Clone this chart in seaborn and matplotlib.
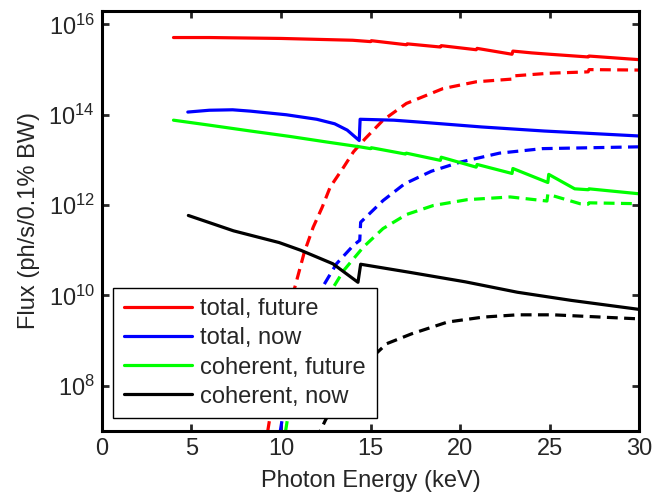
import numpy as np
import pandas as pd
import matplotlib
matplotlib.use("Agg")
import matplotlib.pyplot as plt
import seaborn as sns

# values, as (photon energy keV, log10 flux)
total_future_x = [4.0, 6.0, 8.0, 10.0, 12.0, 14.0, 15.0, 15.05, 17.0, 17.05, 18.9, 18.95,
                  20.9, 20.95, 22.9, 22.95, 24.0, 25.0, 27.15, 27.2, 30.0]
total_future_y = [15.71, 15.71, 15.70, 15.69, 15.67, 15.65, 15.62, 15.64, 15.55, 15.57, 15.50, 15.53,
                  15.44, 15.47, 15.34, 15.41, 15.37, 15.34, 15.28, 15.30, 15.22]
total_future_dx = [9.1, 9.55, 10.1, 10.7, 11.3, 11.8, 12.3, 12.75, 13.5, 14.05, 14.7, 15.7, 17.0,
                   19.05, 20.9, 22.9, 22.95, 25.0, 27.15, 27.2, 30.0]
total_future_dy = [6.6, 7.7, 8.8, 10.07, 10.95, 11.51, 11.95, 12.4, 12.84, 13.18, 13.47, 13.88, 14.25,
                   14.58, 14.73, 14.79, 14.86, 14.92, 14.95, 15.0, 14.99]

total_now_x = [4.8, 6.0, 7.3, 8.3, 10.3, 12.0, 13.0, 13.7, 14.37, 14.42, 16.3, 18.0, 21.2, 24.7, 30.0]
total_now_y = [14.06, 14.10, 14.11, 14.08, 14.0, 13.9, 13.8, 13.66, 13.43, 13.9, 13.88, 13.83,
               13.73, 13.64, 13.53]
total_now_dx = [9.8, 10.5, 11.3, 12.15, 13.1, 14.05, 14.4, 14.45, 15.7, 16.9, 18.4, 20.0, 22.2, 24.6, 30.0]
total_now_dy = [6.6, 8.3, 9.2, 10.07, 10.7, 11.11, 11.22, 11.62, 12.1, 12.47, 12.75, 12.95, 13.15,
                13.25, 13.29]

coh_future_x = [4.0, 6.0, 8.3, 10.5, 12.5, 14.4, 15.0, 15.05, 16.95, 17.0, 18.9, 18.95, 20.9, 20.95,
                22.9, 22.95, 24.9, 24.95, 26.4, 27.15, 27.2, 30.0]
coh_future_y = [13.88, 13.77, 13.64, 13.52, 13.40, 13.29, 13.25, 13.27, 13.13, 13.15, 12.99, 13.06,
                12.84, 12.90, 12.70, 12.81, 12.50, 12.68, 12.36, 12.34, 12.36, 12.25]
coh_future_dx = [10.1, 10.7, 11.7, 12.8, 13.5, 14.6, 15.7, 17.0, 18.5, 20.4, 22.8, 24.85, 24.9, 26.7,
                 27.15, 27.2, 30.0]
coh_future_dy = [6.6, 8.1, 9.2, 10.1, 10.55, 11.07, 11.48, 11.79, 11.99, 12.12, 12.18, 12.09, 12.24,
                 12.03, 12.02, 12.05, 12.03]

coh_now_x = [4.83, 7.35, 9.9, 11.1, 12.9, 14.3, 14.45, 17.2, 20.3, 23.2, 26.2, 30.0]
coh_now_y = [11.77, 11.43, 11.17, 11.0, 10.7, 10.29, 10.69, 10.51, 10.3, 10.07, 9.89, 9.69]
coh_now_dx = [11.95, 12.5, 13.5, 14.6, 15.9, 17.3, 19.3, 21.3, 23.2, 25.2, 30.0]
coh_now_dy = [6.8, 7.25, 7.9, 8.45, 8.93, 9.15, 9.41, 9.52, 9.57, 9.57, 9.48]

labels = ["total, future", "total, now", "coherent, future", "coherent, now"]
colors = ["#ff0000", "#0000ff", "#00ff00", "#000000"]
solid = [(total_future_x, total_future_y), (total_now_x, total_now_y),
         (coh_future_x, coh_future_y), (coh_now_x, coh_now_y)]
dashed = [(total_future_dx, total_future_dy), (total_now_dx, total_now_dy),
          (coh_future_dx, coh_future_dy), (coh_now_dx, coh_now_dy)]

sns.set_style("ticks")
plt.rcParams["font.family"] = ["Liberation Sans", "DejaVu Sans"]
plt.rcParams["mathtext.fontset"] = "custom"
plt.rcParams["mathtext.rm"] = "Liberation Sans"
plt.rcParams["xtick.direction"] = "in"
plt.rcParams["ytick.direction"] = "in"

fs = 17
fig = plt.figure(figsize=(6.7, 4.93), dpi=100)
ax = fig.add_axes([0.152, 0.126, 0.802, 0.852])
ax.set_yscale("log")

lw = 2.3
for (x, y), c in zip(dashed, colors):
    sns.lineplot(x=x, y=10 ** np.array(y), color=c, lw=lw, ax=ax, sort=False,
                 estimator=None, legend=False)
    ax.lines[-1].set_dashes((3.4, 2.0))
for (x, y), c, lab in zip(solid, colors, labels):
    sns.lineplot(x=x, y=10 ** np.array(y), color=c, lw=lw, ax=ax, sort=False,
                 estimator=None, label=lab)

ax.set_xlim(0, 30)
ax.set_ylim(1e7, 2e16)
ax.set_xticks([0, 5, 10, 15, 20, 25, 30])
ax.set_yticks([1e8, 1e10, 1e12, 1e14, 1e16])
ax.yaxis.set_minor_locator(matplotlib.ticker.NullLocator())
ax.tick_params(axis="both", which="major", labelsize=fs, length=5, width=2,
               top=True, right=True, pad=5)
for s in ax.spines.values():
    s.set_linewidth(2.2)
    s.set_color("black")

ax.set_xlabel("Photon Energy (keV)", fontsize=fs, labelpad=7)
ax.set_ylabel("Flux (ph/s/0.1% BW)", fontsize=fs, labelpad=6)

handles, labs = ax.get_legend_handles_labels()
leg = ax.legend(handles, labs, loc="lower left", bbox_to_anchor=(0.021, 0.03),
                borderaxespad=0, fontsize=fs, frameon=True, fancybox=False,
                handlelength=2.9, handletextpad=0.35, labelspacing=0.3,
                borderpad=0.45)
leg.get_frame().set_edgecolor("black")
leg.get_frame().set_linewidth(1.0)
leg.get_frame().set_alpha(1)

fig.savefig("out.png", dpi=100)
